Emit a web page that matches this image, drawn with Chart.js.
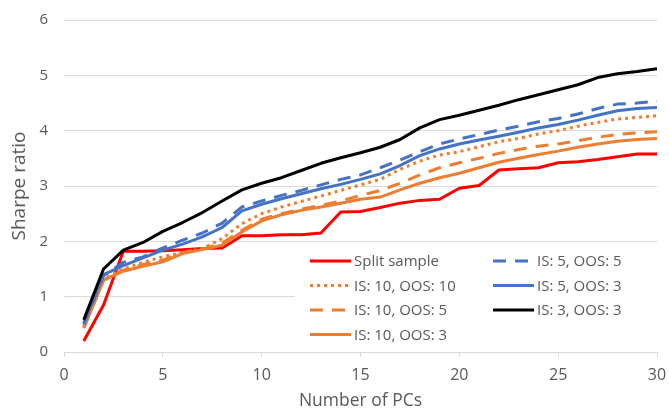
<!DOCTYPE html>
<html><head><meta charset="utf-8">
<script src="https://cdn.jsdelivr.net/npm/chart.js@4.4.0/dist/chart.umd.min.js"></script>
<style>html,body{margin:0;padding:0;background:#fff}#wrap{width:669px;height:412px;position:relative}</style>
</head><body><div id="wrap"><canvas id="c" width="669" height="412"></canvas></div>
<script>
const pcs = [1,2,3,4,5,6,7,8,9,10,11,12,13,14,15,16,17,18,19,20,21,22,23,24,25,26,27,28,29,30];
const splitSample = [0.2,0.85,1.82,1.82,1.83,1.85,1.87,1.88,2.1,2.1,2.12,2.12,2.15,2.53,2.54,2.61,2.69,2.74,2.76,2.96,3.01,3.29,3.31,3.33,3.42,3.44,3.48,3.53,3.58,3.58];
const is10oos10 = [0.45,1.32,1.5,1.62,1.72,1.8,1.87,2.05,2.32,2.5,2.62,2.72,2.82,2.92,3.02,3.12,3.3,3.45,3.56,3.62,3.71,3.8,3.86,3.94,4.0,4.08,4.15,4.21,4.24,4.27];
const is10oos5 = [0.45,1.3,1.48,1.58,1.66,1.8,1.86,1.97,2.2,2.4,2.5,2.58,2.65,2.73,2.83,2.92,3.05,3.2,3.33,3.42,3.5,3.59,3.66,3.72,3.76,3.82,3.88,3.93,3.96,3.98];
const is10oos3 = [0.43,1.3,1.46,1.55,1.63,1.78,1.85,1.93,2.17,2.37,2.48,2.56,2.62,2.69,2.76,2.8,2.93,3.05,3.15,3.23,3.33,3.43,3.5,3.57,3.63,3.7,3.76,3.81,3.84,3.86];
const is5oos5 = [0.5,1.38,1.62,1.72,1.88,2.02,2.15,2.33,2.62,2.73,2.83,2.92,3.02,3.12,3.2,3.33,3.47,3.62,3.76,3.85,3.93,4.01,4.08,4.16,4.22,4.3,4.4,4.48,4.5,4.53];
const is5oos3 = [0.52,1.4,1.56,1.7,1.84,1.95,2.08,2.25,2.55,2.67,2.77,2.86,2.95,3.03,3.12,3.22,3.37,3.55,3.67,3.76,3.83,3.9,3.97,4.05,4.11,4.19,4.28,4.36,4.4,4.42];
const is3oos3 = [0.58,1.5,1.84,1.98,2.18,2.34,2.52,2.73,2.93,3.05,3.15,3.28,3.41,3.51,3.6,3.7,3.84,4.05,4.2,4.28,4.37,4.46,4.56,4.65,4.74,4.83,4.96,5.03,5.07,5.12];
const seriesNames = ['Split sample','IS: 10, OOS: 10','IS: 10, OOS: 5','IS: 10, OOS: 3','IS: 5, OOS: 5','IS: 5, OOS: 3','IS: 3, OOS: 3'];
const xTicks = [0,5,10,15,20,25,30];
const yTicks = [0,1,2,3,4,5,6];
const xTitle = 'Number of PCs';
const yTitle = 'Sharpe ratio';

const FONT = "'Open Sans', sans-serif";
const RED = '#ff0000', ORANGE = '#ed7d31', BLUE = '#4472c4', BLACK = '#000000';
const DOT = [3,4], DASH = [13,9];
const styles = [
  {c: RED, d: []},
  {c: ORANGE, d: DOT},
  {c: ORANGE, d: DASH},
  {c: ORANGE, d: []},
  {c: BLUE, d: DASH},
  {c: BLUE, d: []},
  {c: BLACK, d: []}
];
const allSeries = [splitSample, is10oos10, is10oos5, is10oos3, is5oos5, is5oos3, is3oos3];
const datasets = allSeries.map((vals, i) => ({
  label: seriesNames[i],
  data: pcs.map((x, j) => ({x: x, y: vals[j]})),
  borderColor: styles[i].c,
  backgroundColor: styles[i].c,
  borderDash: styles[i].d,
  borderWidth: 3,
  borderCapStyle: 'butt',
  borderJoinStyle: 'round',
  pointRadius: 0,
  tension: 0,
  fill: false,
  order: 7 - i
}));

const insideLegend = {
  id: 'insideLegend',
  afterDatasetsDraw(chart) {
    const ctx = chart.ctx;
    const ca = chart.chartArea;
    ctx.save();
    ctx.fillStyle = '#ffffff';
    ctx.fillRect(ca.left + 231, ca.bottom - 106, ca.right - ca.left - 228, 100);
    const cols = [[0,1,2,3],[4,5,6]];
    const colX = [ca.left + 246, ca.left + 429];
    const rowY0 = ca.bottom - 91, rowH = 24.5;
    ctx.font = '15px ' + FONT;
    ctx.textBaseline = 'middle';
    ctx.textAlign = 'left';
    cols.forEach((col, ci) => {
      col.forEach((di, ri) => {
        const y = rowY0 + ri * rowH;
        const x = colX[ci];
        ctx.strokeStyle = styles[di].c;
        ctx.lineWidth = 3;
        ctx.setLineDash(styles[di].d);
        ctx.lineCap = 'butt';
        ctx.beginPath();
        ctx.moveTo(x, y);
        ctx.lineTo(x + 41, y);
        ctx.stroke();
        ctx.setLineDash([]);
        ctx.fillStyle = '#595959';
        ctx.fillText(seriesNames[di], x + 44, y + 1);
      });
    });
    ctx.restore();
  }
};

new Chart(document.getElementById('c'), {
  type: 'line',
  data: {datasets: datasets},
  plugins: [insideLegend],
  options: {
    responsive: false,
    animation: false,
    devicePixelRatio: 1,
    layout: {padding: {top: 20, right: 12, left: 0, bottom: 0}},
    plugins: {legend: {display: false}, tooltip: {enabled: false}},
    scales: {
      x: {
        type: 'linear', min: 0, max: 30,
        afterBuildTicks: (s) => { s.ticks = xTicks.map(v => ({value: v})); },
        afterFit: (s) => { s.height = 60; },
        ticks: {color: '#595959', font: {family: FONT, size: 16, lineHeight: 2.2}, padding: 1, maxRotation: 0},
        grid: {drawOnChartArea: false, drawTicks: true, tickLength: 5, color: '#d9d9d9'},
        border: {display: true, color: '#d9d9d9', width: 1},
        title: {display: true, text: xTitle, color: '#595959', font: {family: FONT, size: 17.5}, padding: {top: 0, bottom: 0}}
      },
      y: {
        type: 'linear', min: 0, max: 6,
        afterBuildTicks: (s) => { s.ticks = yTicks.map(v => ({value: v})); },
        afterFit: (s) => { s.width = 64; },
        ticks: {color: '#595959', font: {family: FONT, size: 15}, padding: 3},
        grid: {color: '#d9d9d9', drawTicks: true, tickLength: 13, tickColor: 'rgba(0,0,0,0)', lineWidth: 1},
        border: {display: false},
        title: {display: true, text: yTitle, color: '#595959', font: {family: FONT, size: 19}, padding: {top: 8, bottom: 0}}
      }
    }
  }
});
</script>
</body></html>
